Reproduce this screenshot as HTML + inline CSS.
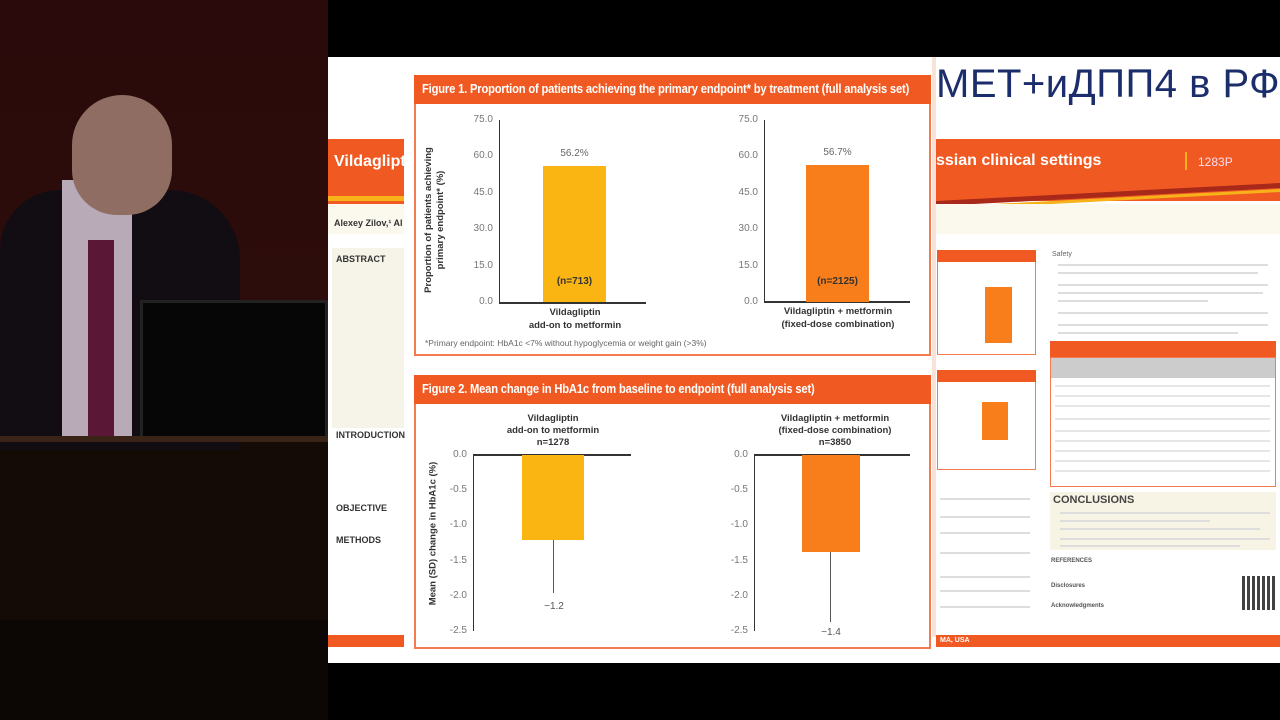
<!DOCTYPE html>
<html><head><meta charset="utf-8"><style>
*{margin:0;padding:0;box-sizing:border-box}
body{width:1280px;height:720px;overflow:hidden;background:#000;position:relative;font-family:"Liberation Sans","DejaVu Sans",sans-serif}
.a{position:absolute}
.t{position:absolute;font-size:10px;color:#777;text-align:right;width:30px}
.hdr{background:#f05a22;color:#fff;font-weight:bold;font-size:13px;padding:6px 8px;white-space:nowrap;overflow:hidden}
.hdr span{display:inline-block;transform:scaleX(0.86);transform-origin:left center;letter-spacing:-0.2px}
.g{position:absolute;height:2px;background:#ddd}
</style></head><body>
<!-- left presenter area -->
<div class="a" style="left:0;top:0;width:328px;height:720px;background:linear-gradient(180deg,#2a0a0a 0%,#2e0c0c 50%,#1a0606 100%)"></div>
<div class="a" style="left:0;top:440px;width:328px;height:280px;background:#140a06"></div>
<div class="a" style="left:0;top:620px;width:328px;height:100px;background:#0c0605"></div>
<div class="a" style="left:0;top:190px;width:240px;height:260px;background:#120d12;border-radius:60px 70px 0 0"></div>
<div class="a" style="left:62px;top:180px;width:70px;height:260px;background:#b9aab8"></div>
<div class="a" style="left:88px;top:240px;width:26px;height:200px;background:#5a1836"></div>
<div class="a" style="left:72px;top:95px;width:100px;height:120px;background:#8f6d62;border-radius:50px 50px 45px 45px"></div>
<div class="a" style="left:140px;top:300px;width:188px;height:140px;background:#060606;border:3px solid #222"></div>
<div class="a" style="left:0;top:436px;width:328px;height:6px;background:#3a2418"></div>
<!-- slide background -->
<div class="a" style="left:328px;top:57px;width:952px;height:606px;background:#fff"></div>
<!-- left strip of poster -->
<div class="a" style="left:328px;top:139px;width:76px;height:65px;background:#f05a22"></div>
<div class="a" style="left:334px;top:153px;color:#fff;font-weight:bold;font-size:16px">Vildaglipt</div>
<div class="a" style="left:328px;top:196px;width:76px;height:5px;background:#f7b21a"></div>
<div class="a" style="left:328px;top:204px;width:76px;height:30px;background:#fbf8ee"></div>
<div class="a" style="left:334px;top:218px;color:#333;font-weight:bold;font-size:9px">Alexey Zilov,¹ Al</div>
<div class="a" style="left:332px;top:248px;width:72px;height:180px;background:#f6f3e8"></div>
<div class="a" style="left:336px;top:254px;color:#333;font-weight:bold;font-size:9px">ABSTRACT</div>
<div class="a" style="left:336px;top:430px;color:#333;font-weight:bold;font-size:9px">INTRODUCTION</div>
<div class="a" style="left:336px;top:503px;color:#333;font-weight:bold;font-size:9px">OBJECTIVE</div>
<div class="a" style="left:336px;top:535px;color:#333;font-weight:bold;font-size:9px">METHODS</div>
<div class="a" style="left:328px;top:635px;width:76px;height:12px;background:#f05a22"></div>
<!-- Figure 1 -->
<div class="a" style="left:414px;top:75px;width:517px;height:281px;border:2px solid #f47a50;background:#fff"></div>
<div class="a hdr" style="left:414px;top:75px;width:517px;height:29px"><span>Figure 1. Proportion of patients achieving the primary endpoint* by treatment (full analysis set)</span></div>
<div class="a" style="left:499px;top:120px;width:1px;height:183px;background:#333"></div>
<div class="a" style="left:499px;top:302px;width:147px;height:2px;background:#333"></div>
<div class="t" style="left:463px;top:114px">75.0</div><div class="t" style="left:463px;top:150px">60.0</div><div class="t" style="left:463px;top:187px">45.0</div><div class="t" style="left:463px;top:223px">30.0</div><div class="t" style="left:463px;top:260px">15.0</div><div class="t" style="left:463px;top:296px">0.0</div>
<div class="a" style="left:543px;top:166px;width:63px;height:136px;background:#fbb512"></div>
<div class="a" style="left:543px;top:148px;width:63px;text-align:center;font-size:10px;color:#666">56.2%</div>
<div class="a" style="left:543px;top:276px;width:63px;text-align:center;font-size:10px;font-weight:bold;color:#333">(n=713)</div>
<div class="a" style="left:520px;top:306px;width:110px;text-align:center;font-size:9.5px;font-weight:bold;color:#333;line-height:13px">Vildagliptin<br>add-on to metformin</div>
<div class="a" style="left:764px;top:120px;width:1px;height:183px;background:#333"></div>
<div class="a" style="left:764px;top:301px;width:146px;height:2px;background:#333"></div>
<div class="t" style="left:728px;top:114px">75.0</div><div class="t" style="left:728px;top:150px">60.0</div><div class="t" style="left:728px;top:187px">45.0</div><div class="t" style="left:728px;top:223px">30.0</div><div class="t" style="left:728px;top:260px">15.0</div><div class="t" style="left:728px;top:296px">0.0</div>
<div class="a" style="left:806px;top:165px;width:63px;height:137px;background:#f77e1a"></div>
<div class="a" style="left:806px;top:147px;width:63px;text-align:center;font-size:10px;color:#666">56.7%</div>
<div class="a" style="left:806px;top:276px;width:63px;text-align:center;font-size:10px;font-weight:bold;color:#333">(n=2125)</div>
<div class="a" style="left:770px;top:305px;width:136px;text-align:center;font-size:9.5px;font-weight:bold;color:#333;line-height:13px">Vildagliptin + metformin<br>(fixed-dose combination)</div>
<div class="a" style="left:340px;top:208px;width:190px;text-align:center;transform:rotate(-90deg);font-size:9.5px;font-weight:bold;color:#333;line-height:12px">Proportion of patients achieving<br>primary endpoint* (%)</div>
<div class="a" style="left:425px;top:338px;font-size:8.5px;color:#666">*Primary endpoint: HbA1c &lt;7% without hypoglycemia or weight gain (&gt;3%)</div>
<!-- Figure 2 -->
<div class="a" style="left:414px;top:375px;width:517px;height:274px;border:2px solid #f47a50;background:#fff"></div>
<div class="a hdr" style="left:414px;top:375px;width:517px;height:29px"><span>Figure 2. Mean change in HbA1c from baseline to endpoint (full analysis set)</span></div>
<div class="a" style="left:473px;top:455px;width:1px;height:176px;background:#333"></div>
<div class="a" style="left:473px;top:454px;width:158px;height:2px;background:#333"></div>
<div class="t" style="left:437px;top:449px">0.0</div><div class="t" style="left:437px;top:484px">-0.5</div><div class="t" style="left:437px;top:519px">-1.0</div><div class="t" style="left:437px;top:555px">-1.5</div><div class="t" style="left:437px;top:590px">-2.0</div><div class="t" style="left:437px;top:625px">-2.5</div>
<div class="a" style="left:522px;top:455px;width:62px;height:85px;background:#fbb512"></div>
<div class="a" style="left:553px;top:540px;width:1px;height:53px;background:#555"></div>
<div class="a" style="left:530px;top:601px;width:48px;text-align:center;font-size:10px;color:#555">−1.2</div>
<div class="a" style="left:483px;top:413px;width:140px;text-align:center;font-size:9.5px;font-weight:bold;color:#333;line-height:12px">Vildagliptin<br>add-on to metformin<br>n=1278</div>
<div class="a" style="left:754px;top:455px;width:1px;height:176px;background:#333"></div>
<div class="a" style="left:754px;top:454px;width:156px;height:2px;background:#333"></div>
<div class="t" style="left:718px;top:449px">0.0</div><div class="t" style="left:718px;top:484px">-0.5</div><div class="t" style="left:718px;top:519px">-1.0</div><div class="t" style="left:718px;top:555px">-1.5</div><div class="t" style="left:718px;top:590px">-2.0</div><div class="t" style="left:718px;top:625px">-2.5</div>
<div class="a" style="left:802px;top:455px;width:58px;height:97px;background:#f77e1a"></div>
<div class="a" style="left:830px;top:552px;width:1px;height:70px;background:#555"></div>
<div class="a" style="left:807px;top:627px;width:48px;text-align:center;font-size:10px;color:#555">−1.4</div>
<div class="a" style="left:760px;top:413px;width:150px;text-align:center;font-size:9.5px;font-weight:bold;color:#333;line-height:12px">Vildagliptin + metformin<br>(fixed-dose combination)<br>n=3850</div>
<div class="a" style="left:338px;top:528px;width:190px;text-align:center;transform:rotate(-90deg);font-size:9.5px;font-weight:bold;color:#333">Mean (SD) change in HbA1c (%)</div>
<!-- right side -->
<div class="a" style="left:932px;top:57px;width:4px;height:580px;background:#f7e3d8"></div>
<div class="a" style="left:936px;top:62px;font-size:40px;color:#1c2d6b;white-space:nowrap;letter-spacing:0.5px">МЕТ+иДПП4 в РФ</div>
<div class="a" style="left:936px;top:139px;width:344px;height:62px;background:#f05a22"></div>
<div class="a" style="left:936px;top:192px;width:344px;height:5px;background:#a8281a;transform:skewY(-3deg)"></div>
<div class="a" style="left:936px;top:198px;width:344px;height:3px;background:#f7b21a;transform:skewY(-3deg)"></div>
<div class="a" style="left:936px;top:152px;color:#fff;font-weight:bold;font-size:16px">ssian clinical settings</div>
<div class="a" style="left:1185px;top:152px;width:2px;height:18px;background:#f7b21a"></div>
<div class="a" style="left:1198px;top:155px;color:#fde;font-size:12px">1283P</div>
<div class="a" style="left:936px;top:204px;width:344px;height:30px;background:#fbf8ee"></div>
<div class="a" style="left:937px;top:250px;width:99px;height:105px;border:1px solid #f47a50;background:#fff"></div>
<div class="a" style="left:937px;top:250px;width:99px;height:12px;background:#f05a22"></div>
<div class="a" style="left:985px;top:287px;width:27px;height:56px;background:#f77e1a"></div>
<div class="a" style="left:937px;top:370px;width:99px;height:100px;border:1px solid #f47a50;background:#fff"></div>
<div class="a" style="left:937px;top:370px;width:99px;height:12px;background:#f05a22"></div>
<div class="a" style="left:982px;top:402px;width:26px;height:38px;background:#f77e1a"></div>
<div class="a" style="left:1052px;top:251px;font-size:7px;color:#666">Safety</div>
<div class="g" style="left:1058px;top:264px;width:210px"></div><div class="g" style="left:1058px;top:272px;width:200px"></div><div class="g" style="left:1058px;top:284px;width:210px"></div><div class="g" style="left:1058px;top:292px;width:205px"></div><div class="g" style="left:1058px;top:300px;width:150px"></div><div class="g" style="left:1058px;top:312px;width:210px"></div><div class="g" style="left:1058px;top:324px;width:210px"></div><div class="g" style="left:1058px;top:332px;width:180px"></div>
<div class="a" style="left:1050px;top:341px;width:226px;height:24px;background:#f05a22"></div>
<div class="a" style="left:1050px;top:357px;width:226px;height:130px;border:1px solid #f47a50;background:#fff"></div>
<div class="a" style="left:1051px;top:358px;width:224px;height:20px;background:#ccc"></div>
<div class="g" style="left:1055px;top:385px;width:215px;background:#e6e6e6"></div><div class="g" style="left:1055px;top:395px;width:215px;background:#e6e6e6"></div><div class="g" style="left:1055px;top:405px;width:215px;background:#e6e6e6"></div><div class="g" style="left:1055px;top:418px;width:215px;background:#e6e6e6"></div><div class="g" style="left:1055px;top:430px;width:215px;background:#e6e6e6"></div><div class="g" style="left:1055px;top:440px;width:215px;background:#e6e6e6"></div><div class="g" style="left:1055px;top:450px;width:215px;background:#e6e6e6"></div><div class="g" style="left:1055px;top:460px;width:215px;background:#e6e6e6"></div><div class="g" style="left:1055px;top:470px;width:215px;background:#e6e6e6"></div>
<div class="a" style="left:1050px;top:492px;width:226px;height:58px;background:#f7f4e6"></div>
<div class="a" style="left:1053px;top:494px;font-size:11px;font-weight:bold;color:#444">CONCLUSIONS</div>
<div class="g" style="left:1060px;top:512px;width:210px"></div><div class="g" style="left:1060px;top:520px;width:150px"></div><div class="g" style="left:1060px;top:528px;width:200px"></div><div class="g" style="left:1060px;top:538px;width:210px"></div><div class="g" style="left:1060px;top:545px;width:180px"></div>
<div class="a" style="left:1051px;top:558px;font-size:6px;font-weight:bold;color:#555">REFERENCES</div>
<div class="a" style="left:1051px;top:583px;font-size:6px;font-weight:bold;color:#555">Disclosures</div>
<div class="a" style="left:1051px;top:603px;font-size:6px;font-weight:bold;color:#555">Acknowledgments</div>
<div class="g" style="left:940px;top:498px;width:90px"></div><div class="g" style="left:940px;top:516px;width:90px"></div><div class="g" style="left:940px;top:532px;width:90px"></div><div class="g" style="left:940px;top:552px;width:90px"></div><div class="g" style="left:940px;top:576px;width:90px"></div><div class="g" style="left:940px;top:590px;width:90px"></div><div class="g" style="left:940px;top:606px;width:90px"></div>
<div class="a" style="left:1242px;top:576px;width:33px;height:34px;background:repeating-linear-gradient(90deg,#222 0 3px,#fff 3px 5px),#222;opacity:.85"></div>
<div class="a" style="left:936px;top:635px;width:344px;height:12px;background:#f05a22"></div>
<div class="a" style="left:940px;top:637px;font-size:7px;color:#fff;font-weight:bold">MA, USA</div>
</body></html>
